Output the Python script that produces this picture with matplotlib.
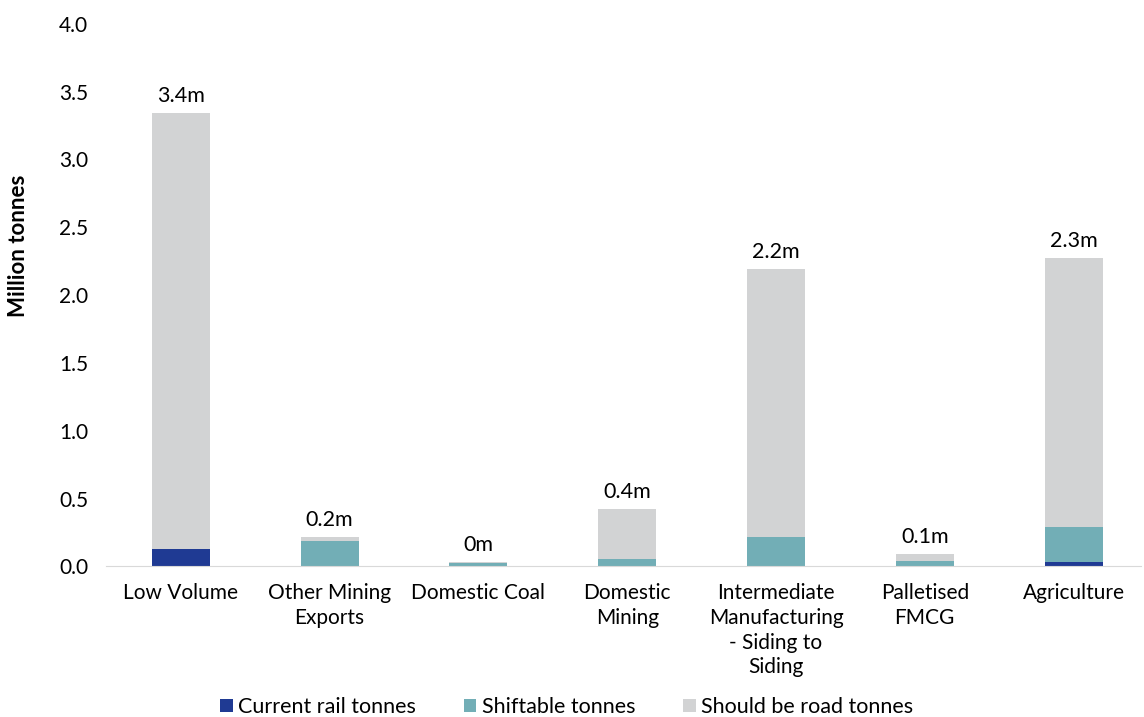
import numpy as np
import matplotlib.pyplot as plt

categories = ["Low Volume", "Other Mining\nExports", "Domestic Coal", "Domestic\nMining",
              "Intermediate\nManufacturing\n- Siding to\nSiding", "Palletised\nFMCG", "Agriculture"]
current_rail = [0.13, 0.0, 0.0, 0.0, 0.0, 0.0, 0.035]
shiftable = [0.0, 0.185, 0.027, 0.052, 0.22, 0.037, 0.255]
should_be_road = [3.21, 0.03, 0.005, 0.368, 1.97, 0.052, 1.98]
total_labels = ["3.4m", "0.2m", "0m", "0.4m", "2.2m", "0.1m", "2.3m"]

plt.rcParams['font.family'] = ['Lato', 'DejaVu Sans']

fig, ax = plt.subplots(figsize=(11.44, 7.17), dpi=100)
fig.subplots_adjust(left=0.093, right=0.997, top=0.967, bottom=0.21)

x = np.arange(len(categories))
w = 0.39
rail = np.array(current_rail)
shift = np.array(shiftable)
road = np.array(should_be_road)

ax.bar(x, rail, w, color='#1f3a93', label='Current rail tonnes')
ax.bar(x, shift, w, bottom=rail, color='#72aeb6', label='Shiftable tonnes')
ax.bar(x, road, w, bottom=rail + shift, color='#d2d3d4', label='Should be road tonnes')

totals = rail + shift + road
for xi, t, lab in zip(x, totals, total_labels):
    ax.annotate(lab, (xi, t), xytext=(0, 5), textcoords='offset points',
                ha='center', va='bottom', fontsize=15.5)

ax.set_ylim(0, 4.0)
ax.set_yticks(np.arange(0, 4.01, 0.5))
ax.set_yticklabels(["%.1f" % v for v in np.arange(0, 4.01, 0.5)], fontsize=15)
ax.set_xlim(-0.5, 6.45)
ax.set_xticks(x)
ax.set_xticklabels(categories, fontsize=15, va='top', linespacing=1.3)
ax.tick_params(axis='x', length=0, pad=12)
ax.tick_params(axis='y', length=0, pad=13)

for s in ['top', 'right', 'left']:
    ax.spines[s].set_visible(False)
ax.spines['bottom'].set_color('#d9d9d9')

ax.set_ylabel('Million tonnes', fontsize=16, fontweight='bold')
ax.yaxis.set_label_coords(-0.075, 0.59)

ax.legend(loc='lower center', bbox_to_anchor=(0.445, -0.313), ncol=3, frameon=False,
          fontsize=15.5, handlelength=0.6, handleheight=0.6, handletextpad=0.25, columnspacing=2.2)

plt.savefig('out.png')
